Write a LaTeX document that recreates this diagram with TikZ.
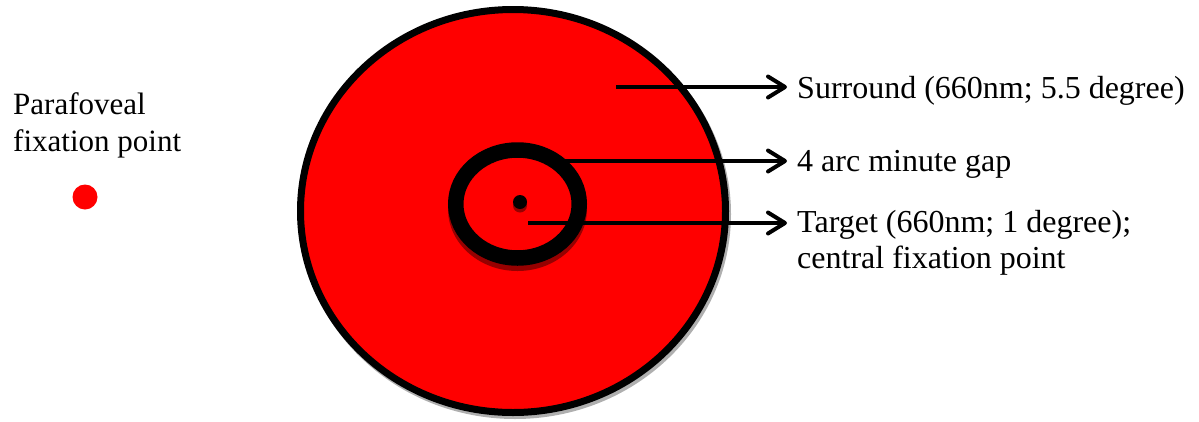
\documentclass[tikz,border=0pt]{standalone}
\usepackage{fontspec}
\setmainfont{Liberation Serif}
\usetikzlibrary{arrows.meta}
\definecolor{pred}{RGB}{255,0,0}
\definecolor{shadowred}{RGB}{150,0,0}
\definecolor{shadowgray}{RGB}{175,175,175}
\begin{document}
\begin{tikzpicture}[x=1pt,y=-1pt,
  lbl/.style={anchor=base west,inner sep=0pt,font=\fontsize{32}{36}\selectfont},
  leftlbl/.style={anchor=base west,inner sep=0pt,align=left,font=\fontsize{31}{37}\selectfont},
  pointer/.style={line width=4pt,-{Straight Barb[length=17pt,width=21pt,round]}}]
\useasboundingbox (0,0) rectangle (1199,421);
% big surround disc
\draw[shadowgray,line width=7pt] (515,214) ellipse [x radius=212.5,y radius=201.5];
\draw[fill=pred,line width=7pt] (513,211) ellipse [x radius=212.5,y radius=201.5];
% gap ring with shadow
\fill[shadowred] (517.5,209) ellipse [x radius=69.5,y radius=62];
\draw[black,fill=pred,line width=15.5pt] (517.5,204) ellipse [x radius=61.75,y radius=54];
% central fixation point
\fill[shadowred] (520,205.5) circle [radius=7];
\fill[black] (520,202) circle [radius=7];
\node[circle,inner sep=0pt,minimum size=14pt] (cfp) at (520,202) {};
% parafoveal point
\fill[pred] (85,197) circle [radius=12.5];
\node[circle,inner sep=0pt,minimum size=25pt] (pfp) at (85,197) {};
\node[leftlbl] (ptext) at (13,151) {Parafoveal\\fixation point};
% labels
\node[lbl] (surr) at (797,98) {Surround (660nm; 5.5 degree)};
\node[lbl] (gap) at (797,171) {4 arc minute gap};
\node[lbl] (targ) at (797,232) {Target (660nm; 1 degree);};
\node[lbl] (cent) at (797,268) {central fixation point};
% connectors
\coordinate (s1) at (616,87);  \coordinate (s2) at (787,87);
\coordinate (g1) at (565,161); \coordinate (g2) at (787,161);
\coordinate (t1) at (528,223); \coordinate (t2) at (787,223);
\draw[pointer] (s1) -- (s2);
\draw[pointer] (g1) -- (g2);
\draw[pointer] (t1) -- (t2);
\end{tikzpicture}
\end{document}
